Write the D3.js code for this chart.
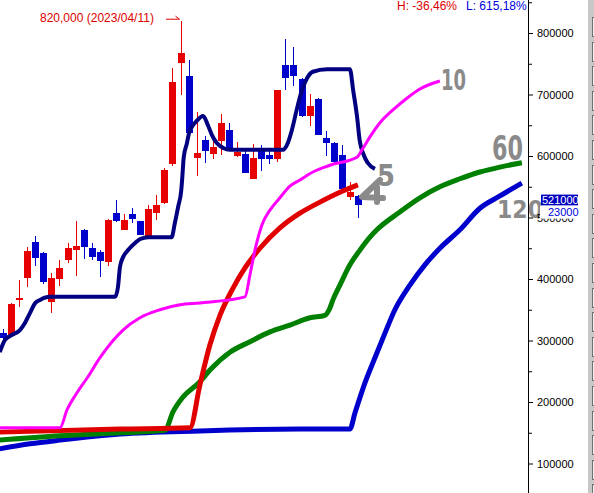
<!DOCTYPE html>
<html><head><meta charset="utf-8">
<script src="https://cdn.jsdelivr.net/npm/d3@7"></script>
<style>body{margin:0;background:#fff;overflow:hidden}svg{display:block}</style>
</head><body>
<svg id="c" width="594" height="493"></svg>
<script>
// ---- candle data (daily OHLC) ----
const open  = [312000,307000,368000,402000,460000,442000,363000,400000,431000,447000,480000,450000,444000,428000,507000,480000,506000,494000,470000,507000,524000,587000,751000,730000,597000,626000,603000,624000,642000,600000,603000,563000,610000,602000,595000,748000,748000,725000,665000,693000,629000,621000,602000,533000,535000];
const high  = [319000,361000,398000,452000,470000,444000,410000,431000,459000,494000,481000,459000,447000,497000,528000,506000,515000,495000,520000,537000,580000,743000,820000,756000,672000,633000,628000,668000,654000,623000,610000,620000,618000,610000,708000,790000,777000,727000,701000,694000,641000,622000,618000,558000,536000];
const low   = [298000,306000,354000,387000,421000,392000,345000,389000,426000,405000,433000,431000,403000,421000,493000,479000,491000,471000,469000,496000,522000,584000,699000,636000,567000,589000,595000,602000,612000,599000,572000,562000,576000,587000,590000,707000,714000,664000,649000,634000,600000,589000,546000,528000,499000];
const close = [304000,359000,369000,446000,434000,395000,402000,418000,450000,454000,452000,436000,429000,496000,494000,496000,498000,472000,514000,520000,577000,720000,767000,637000,605000,608000,615000,654000,613000,607000,573000,597000,595000,595000,707000,727000,730000,665000,681000,634000,621000,590000,546000,541000,521000];

// ---- moving average lines (position in bar units, value) ----
const ma5X = [-0.4,0.25,1.1,2.1,2.7,3.35,4.0,4.6,5.8,13.9,14.25,14.5,14.9,15.5,16.4,17.0,18.0,20.9,21.3,21.7,22.1,22.2,22.4,22.8,23.05,23.4,24.0,24.8,25.4,25.9,26.5,27.3,28.1,34.7,35.2,35.8,36.4,37.05,37.7,38.4,40.15,43.0,43.4,43.9,44.2,44.7,45.2,46.1];
const ma5V = [281000,301000,309000,317000,328000,345000,361000,366000,371000,371000,387000,420000,436000,447000,459000,465000,468000,468000,491000,517000,545000,561000,598000,621000,637000,647000,657000,665000,650000,634000,621000,613000,610000,610000,618000,642000,675000,707000,727000,737000,741000,741000,707000,662000,626000,602000,589000,579000];
const ma10X = [-0.4,7.06,7.93,9.17,10.53,12.02,13.51,14.87,16.98,19.45,21.93,24.41,29.99,30.61,31.23,32.09,33.09,34.32,35.56,36.8,38.41,40.52,43.87,44.49,45.48,46.72,48.33,50.06,51.67,54.15];
const ma10V = [158000,158000,187000,215000,241000,272000,298000,317000,337000,350000,358000,361000,371000,407000,447000,488000,512000,532000,551000,561000,574000,585000,598000,610000,631000,654000,675000,694000,709000,722000];
const ma20X = [-0.4,14.5,23.17,24.41,25.65,26.89,28.38,29.99,31.85,34.32,36.8,39.28,41.76,43.99];
const ma20V = [151000,156000,158000,228000,293000,341000,382000,418000,450000,483000,507000,525000,541000,553000];
const ma60X = [-0.4,7.06,14.5,20.07,21.07,22.3,24.41,25.65,28.13,30.61,33.09,35.56,38.04,39.9,40.52,40.89,41.76,43.0,44.24,45.48,46.34,49.19,51.67,54.15,56.63,59.11,61.59,64.31];
const ma60V = [138000,145000,150000,154000,184000,208000,233000,252000,281000,298000,314000,325000,337000,341000,353000,366000,390000,423000,447000,468000,480000,509000,532000,550000,563000,574000,582000,589000];
const ma120X = [-0.4,3.35,7.06,14.5,24.41,36.8,43.0,43.62,44.86,46.1,47.34,48.57,50.43,52.29,54.15,56.63,59.11,61.59,64.31];
const ma120V = [124000,132000,138000,148000,153000,156000,156000,182000,231000,272000,312000,350000,390000,423000,450000,480000,515000,535000,556000];

// ---- axis ticks and labels ----
const majorTicks = [100000,200000,300000,400000,500000,600000,700000,800000];
const minorTicks = [150000,250000,350000,450000,550000,650000,750000,850000];
const highLabel = "820,000 (2023/04/11)";
const hText = "H: -36,46%";
const lText = "L: 615,18%";
const lastPrice = "521000";
const change = "23000";
const handLabels = ["10","5","60","120"];

const RED = "#e60000", BLUE = "#0000cc";
const svg = d3.select("#c");
const x = d3.scaleLinear().domain([0, 44]).range([3, 358]);
const y = d3.scaleLinear().domain([100000, 800000]).range([463.5, 33]);
const FONT = "'Liberation Sans', Arial, sans-serif";

// candles
const gC = svg.append("g").attr("shape-rendering", "crispEdges");
const idx = d3.range(open.length);
gC.selectAll("rect.w").data(idx).join("rect").attr("class","w")
  .attr("x", i => Math.round(x(i)))
  .attr("y", i => y(high[i]))
  .attr("width", 1)
  .attr("height", i => y(low[i]) - y(high[i]))
  .attr("fill", i => close[i] >= open[i] ? RED : BLUE);
gC.selectAll("rect.b").data(idx).join("rect").attr("class","b")
  .attr("x", i => Math.round(x(i)) - 3)
  .attr("y", i => y(Math.max(open[i], close[i])))
  .attr("width", 7)
  .attr("height", i => Math.max(1.5, y(Math.min(open[i], close[i])) - y(Math.max(open[i], close[i]))))
  .attr("fill", i => close[i] >= open[i] ? RED : BLUE);

// MA lines
const line = d3.line().x(d => x(d[0])).y(d => y(d[1])).curve(d3.curveMonotoneX);
const series = [
  [ma120X, ma120V, "#0000cc", 5],
  [ma60X, ma60V, "#008000", 5],
  [ma20X, ma20V, "#e00000", 5],
  [ma5X, ma5V, "#000080", 4],
  [ma10X, ma10V, "#ff00ff", 3]
];
series.forEach(([xs, vs, col, w]) => {
  svg.append("path").datum(d3.zip(xs, vs)).attr("d", line)
    .attr("fill", "none").attr("stroke", col).attr("stroke-width", w)
    .attr("stroke-linejoin", "round");
});

// high annotation
const hiIdx = high.indexOf(d3.max(high));
svg.append("text").attr("x", 40).attr("y", y(high[hiIdx]) + 1.5).text(highLabel)
  .attr("font-family", FONT).attr("font-size", 12).attr("fill", "#dd0000");
svg.append("path").attr("d", `M166,${y(high[hiIdx])-1.5}H${x(hiIdx)-1}M${x(hiIdx)-5},${y(high[hiIdx])-4.5}L${x(hiIdx)-1},${y(high[hiIdx])-1.5}`)
  .attr("stroke", "#dd0000").attr("fill", "none").attr("stroke-width", 1);

// top H / L
svg.append("text").attr("x", 397).attr("y", 10).text(hText)
  .attr("font-family", FONT).attr("font-size", 12).attr("fill", "#dd0000");
svg.append("text").attr("x", 466).attr("y", 10).text(lText)
  .attr("font-family", FONT).attr("font-size", 12).attr("fill", "#0000dd");

// hand-drawn labels
const GR = "#8a8a8a";
const hand = svg.append("g").attr("fill", GR).attr("font-family", "'DejaVu Sans', sans-serif").attr("font-weight", "bold");
hand.append("text").attr("x", 441).attr("y", 90).attr("font-size", 28).attr("textLength", 25).attr("lengthAdjust", "spacingAndGlyphs").text(handLabels[0]);
hand.append("text").attr("x", 377).attr("y", 186).attr("font-size", 30).attr("textLength", 18).attr("lengthAdjust", "spacingAndGlyphs").text(handLabels[1]);
hand.append("text").attr("x", 492).attr("y", 160).attr("font-size", 34).attr("textLength", 31).attr("lengthAdjust", "spacingAndGlyphs").text(handLabels[2]);
hand.append("text").attr("x", 497).attr("y", 218).attr("font-size", 24).attr("textLength", 46).attr("lengthAdjust", "spacingAndGlyphs").text(handLabels[3]);
svg.append("path").attr("d", "M380,180L362,197L383,198M377,187L377,202")
  .attr("stroke", GR).attr("stroke-width", 6).attr("fill", "none").attr("stroke-linecap", "round").attr("stroke-linejoin", "round");

// right axis
const AX = 528;
const gA = svg.append("g").attr("transform", `translate(${AX},0)`)
  .call(d3.axisRight(y).tickValues(majorTicks).tickSize(5).tickPadding(4).tickFormat(d => d));
gA.select(".domain").remove();
gA.selectAll("text").attr("font-family", FONT).attr("font-size", 11).attr("fill", "#000");
const gM = svg.append("g").attr("transform", `translate(${AX},0)`)
  .call(d3.axisRight(y).tickValues(minorTicks).tickSize(4).tickFormat(""));
gM.select(".domain").remove();
svg.append("line").attr("x1", AX + 0.5).attr("x2", AX + 0.5).attr("y1", 0).attr("y2", 493).attr("stroke", "#000");

// last price boxes
svg.append("rect").attr("x", 541).attr("y", y(+lastPrice) - 10).attr("width", 37).attr("height", 11).attr("fill", "#0000c0");
svg.append("text").attr("x", 542).attr("y", y(+lastPrice) - 0.5).text(lastPrice)
  .attr("font-family", FONT).attr("font-size", 11).attr("fill", "#fff");
svg.append("rect").attr("x", 540).attr("y", y(+lastPrice) + 1).attr("width", 40).attr("height", 13).attr("fill", "#fff");
svg.append("text").attr("x", 548).attr("y", y(+lastPrice) + 11.5).text(change)
  .attr("font-family", FONT).attr("font-size", 11).attr("fill", "#0000dd");

// side panel
svg.append("rect").attr("x", 588).attr("y", 0).attr("width", 6).attr("height", 493).attr("fill", "#c8c8c8");
svg.append("g").selectAll("rect").data(d3.range(20)).join("rect")
  .attr("x", 592.5).attr("y", i => 17.5 + Math.round(i * 24.6)).attr("width", 10).attr("height", 19)
  .attr("fill", "#f0f0f0").attr("stroke", "#707070");
</script>
</body></html>
